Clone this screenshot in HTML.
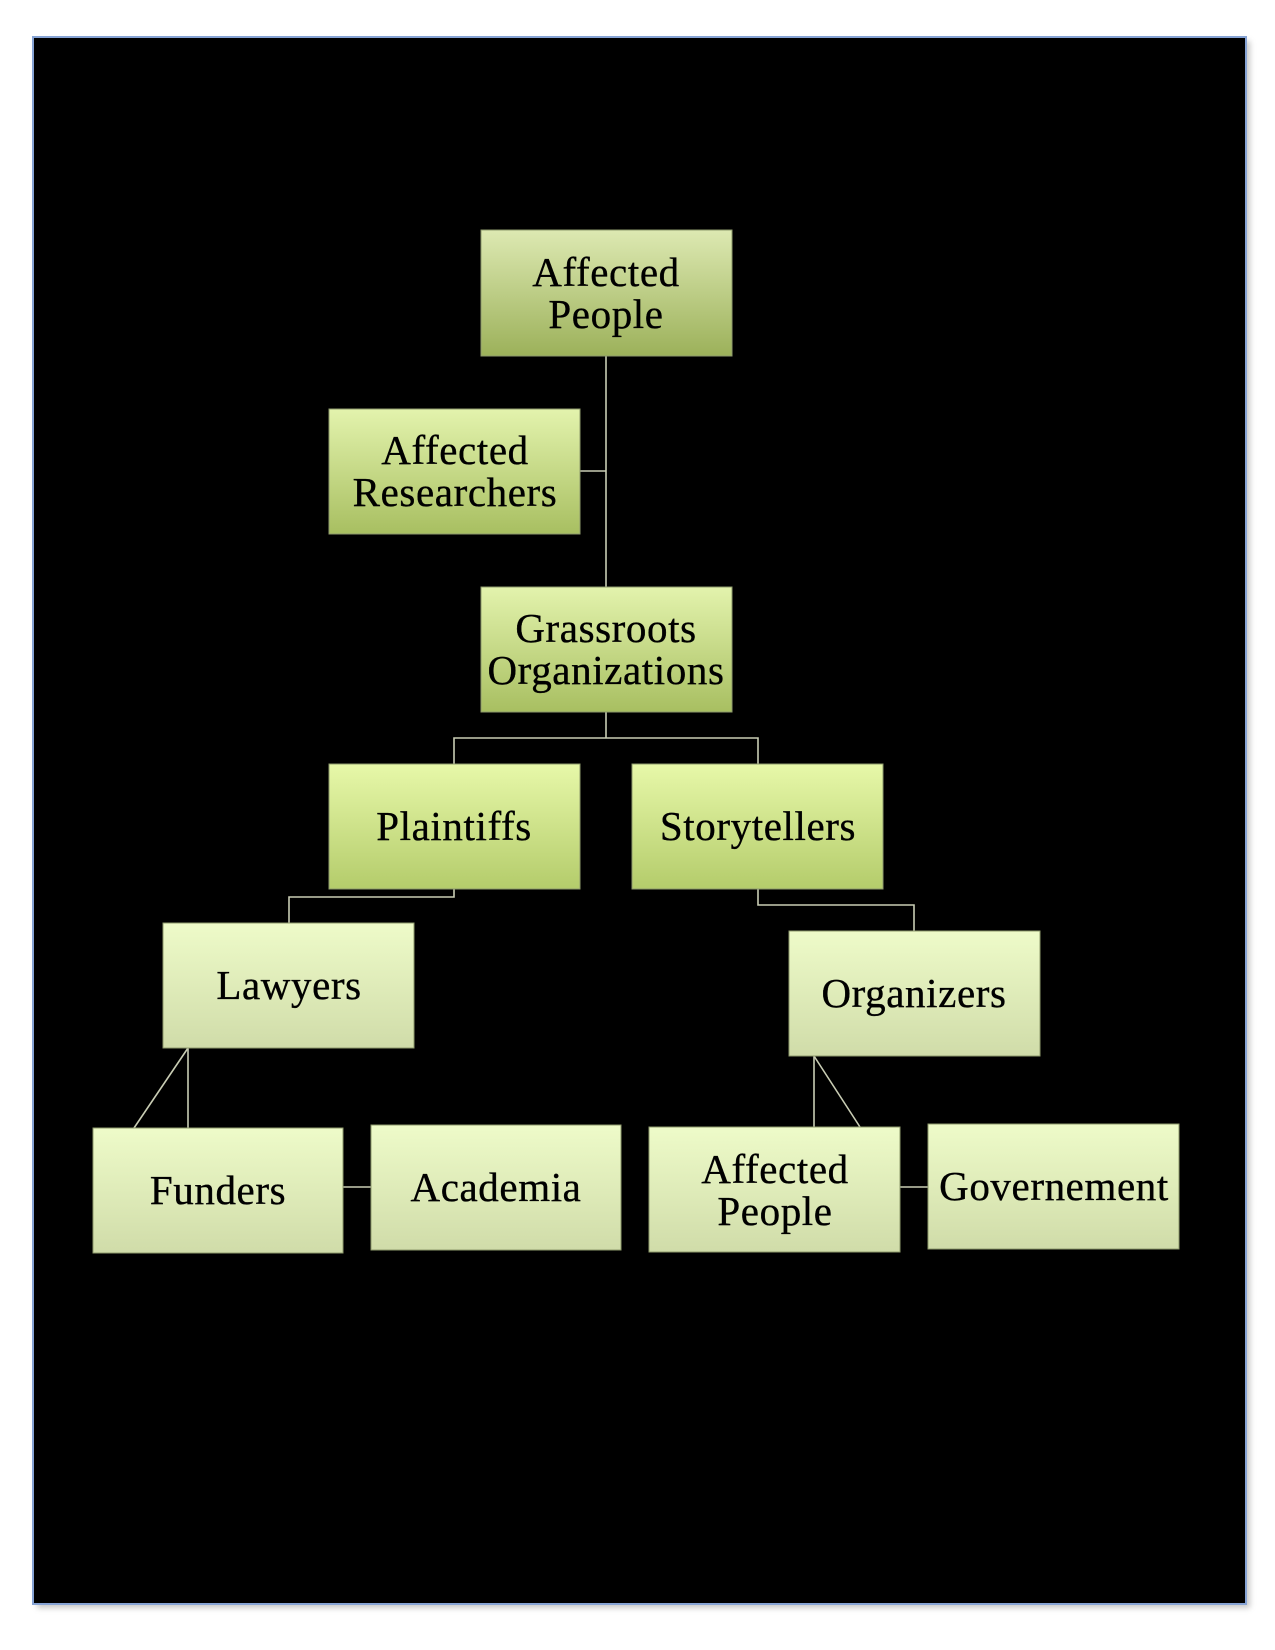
<!DOCTYPE html>
<html>
<head>
<meta charset="utf-8">
<style>
html,body{margin:0;padding:0;background:#fff;}
body{width:1275px;height:1650px;overflow:hidden;}
svg{display:block;}
text{font-family:"Liberation Serif",serif;font-size:41px;fill:#000;stroke:#000;stroke-width:0.35px;letter-spacing:0.6px;text-anchor:middle;}
</style>
</head>
<body>
<svg width="1275" height="1650" viewBox="0 0 1275 1650" xmlns="http://www.w3.org/2000/svg">
<defs>
  <linearGradient id="g1" x1="0" y1="0" x2="0" y2="1">
    <stop offset="0" stop-color="#dde9b2"/>
    <stop offset="1" stop-color="#9cb15a"/>
  </linearGradient>
  <linearGradient id="g2" x1="0" y1="0" x2="0" y2="1">
    <stop offset="0" stop-color="#e3f3ad"/>
    <stop offset="1" stop-color="#a8bf61"/>
  </linearGradient>
  <linearGradient id="g3" x1="0" y1="0" x2="0" y2="1">
    <stop offset="0" stop-color="#e7f8a9"/>
    <stop offset="1" stop-color="#b4cc6b"/>
  </linearGradient>
  <linearGradient id="g4" x1="0" y1="0" x2="0" y2="1">
    <stop offset="0" stop-color="#eefbc9"/>
    <stop offset="1" stop-color="#d0dca9"/>
  </linearGradient>
  <filter id="sh" x="-5%" y="-5%" width="110%" height="110%">
    <feGaussianBlur stdDeviation="3"/>
  </filter>
</defs>

<!-- page shadow -->
<rect x="37" y="41" width="1213" height="1567" fill="#9a9a9a" opacity="0.55" filter="url(#sh)"/>
<!-- black background -->
<rect x="33" y="37" width="1213" height="1567" fill="#000" stroke="#86a3d4" stroke-width="2"/>

<!-- connectors -->
<g stroke="#c9cdb4" stroke-width="1.6" fill="none">
  <line x1="606" y1="356" x2="606" y2="587"/>
  <line x1="580" y1="471" x2="606" y2="471"/>
  <polyline points="606,712 606,738"/>
  <polyline points="454,764 454,738 758,738 758,764"/>
  <polyline points="454,889 454,897 289,897 289,923"/>
  <polyline points="758,889 758,905 914,905 914,931"/>
  <line x1="188" y1="1048" x2="188" y2="1128"/>
  <line x1="188" y1="1048" x2="134" y2="1128"/>
  <line x1="343" y1="1187" x2="371" y2="1187"/>
  <line x1="814" y1="1056" x2="814" y2="1127"/>
  <line x1="814" y1="1056" x2="860" y2="1127"/>
  <line x1="900" y1="1187" x2="928" y2="1187"/>
</g>

<!-- boxes -->
<g stroke="#8e9a6c" stroke-width="1">
  <rect x="481" y="230" width="251" height="126" fill="url(#g1)"/>
  <rect x="329" y="409" width="251" height="125" fill="url(#g2)"/>
  <rect x="481" y="587" width="251" height="125" fill="url(#g2)"/>
  <rect x="329" y="764" width="251" height="125" fill="url(#g3)"/>
  <rect x="632" y="764" width="251" height="125" fill="url(#g3)"/>
  <rect x="163" y="923" width="251" height="125" fill="url(#g4)"/>
  <rect x="789" y="931" width="251" height="125" fill="url(#g4)"/>
  <rect x="93" y="1128" width="250" height="125" fill="url(#g4)"/>
  <rect x="371" y="1125" width="250" height="125" fill="url(#g4)"/>
  <rect x="649" y="1127" width="251" height="125" fill="url(#g4)"/>
  <rect x="928" y="1124" width="251" height="125" fill="url(#g4)"/>
</g>

<!-- labels -->
<text x="606" y="286">Affected</text>
<text x="606" y="328">People</text>

<text x="455" y="464">Affected</text>
<text x="455" y="506">Researchers</text>

<text x="606" y="642">Grassroots</text>
<text x="606" y="684">Organizations</text>

<text x="454" y="840">Plaintiffs</text>
<text x="758" y="840">Storytellers</text>

<text x="289" y="999">Lawyers</text>
<text x="914" y="1007">Organizers</text>

<text x="218" y="1204">Funders</text>
<text x="496" y="1201">Academia</text>

<text x="775" y="1183">Affected</text>
<text x="775" y="1225">People</text>

<text x="1054" y="1200">Governement</text>
</svg>
</body>
</html>
